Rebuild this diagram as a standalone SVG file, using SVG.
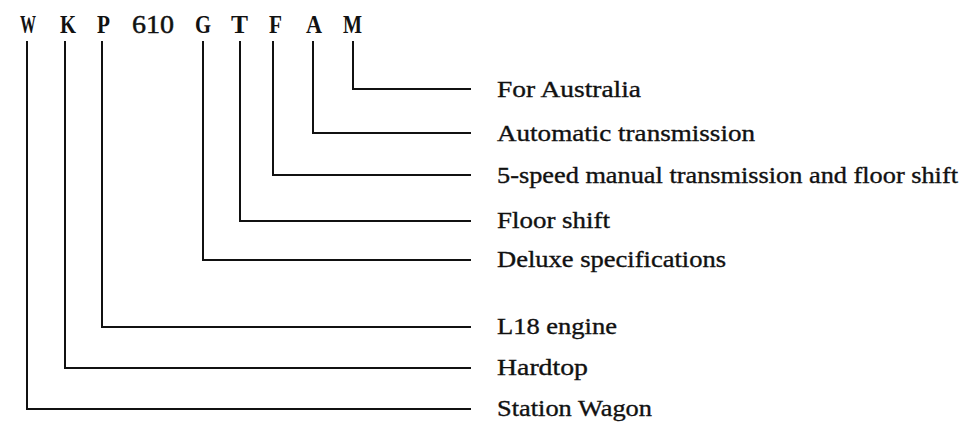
<svg xmlns="http://www.w3.org/2000/svg" width="965" height="424" viewBox="0 0 965 424">
<style>
.code{font-family:"Liberation Serif","Times New Roman",serif;font-weight:bold;font-size:26px;fill:#111}
.num{font-weight:normal;stroke:#111;stroke-width:0.5}
.lbl{font-family:"Liberation Serif","Times New Roman",serif;font-size:23px;fill:#111;stroke:#111;stroke-width:0.35}
.conn{fill:none;stroke:#111;stroke-width:2}
</style>
<rect width="965" height="424" fill="#fff"/>
<g id="code">
<text class="code" x="20" y="33" textLength="16" lengthAdjust="spacingAndGlyphs">W</text>
<text class="code" x="60" y="33" textLength="16" lengthAdjust="spacingAndGlyphs">K</text>
<text class="code" x="97" y="33" textLength="13" lengthAdjust="spacingAndGlyphs">P</text>
<text class="code num" x="132" y="33" textLength="42" lengthAdjust="spacingAndGlyphs">610</text>
<text class="code" x="195" y="33" textLength="16" lengthAdjust="spacingAndGlyphs">G</text>
<text class="code" x="231" y="33" textLength="17" lengthAdjust="spacingAndGlyphs">T</text>
<text class="code" x="269" y="33" textLength="13" lengthAdjust="spacingAndGlyphs">F</text>
<text class="code" x="306" y="33" textLength="16" lengthAdjust="spacingAndGlyphs">A</text>
<text class="code" x="343" y="33" textLength="19" lengthAdjust="spacingAndGlyphs">M</text>
</g>
<g id="connectors">
<path class="conn" d="M353 41 V89 H471"/>
<path class="conn" d="M313 41 V133 H471"/>
<path class="conn" d="M273 41 V175 H471"/>
<path class="conn" d="M240 41 V221 H471"/>
<path class="conn" d="M203 41 V260 H471"/>
<path class="conn" d="M102 41 V327 H471"/>
<path class="conn" d="M65 41 V368 H471"/>
<path class="conn" d="M27 41 V409 H471"/>
</g>
<g id="n-M"><text class="lbl" x="497" y="97" textLength="144" lengthAdjust="spacingAndGlyphs">For Australia</text></g>
<g id="n-A"><text class="lbl" x="497" y="141" textLength="258" lengthAdjust="spacingAndGlyphs">Automatic transmission</text></g>
<g id="n-F"><text class="lbl" x="497" y="183" textLength="461" lengthAdjust="spacingAndGlyphs">5-speed manual transmission and floor shift</text></g>
<g id="n-T"><text class="lbl" x="497" y="228" textLength="113" lengthAdjust="spacingAndGlyphs">Floor shift</text></g>
<g id="n-G"><text class="lbl" x="497" y="267" textLength="229" lengthAdjust="spacingAndGlyphs">Deluxe specifications</text></g>
<g id="n-P"><text class="lbl" x="497" y="334" textLength="120" lengthAdjust="spacingAndGlyphs">L18 engine</text></g>
<g id="n-K"><text class="lbl" x="497" y="375" textLength="91" lengthAdjust="spacingAndGlyphs">Hardtop</text></g>
<g id="n-W"><text class="lbl" x="497" y="416" textLength="155" lengthAdjust="spacingAndGlyphs">Station Wagon</text></g>
</svg>
